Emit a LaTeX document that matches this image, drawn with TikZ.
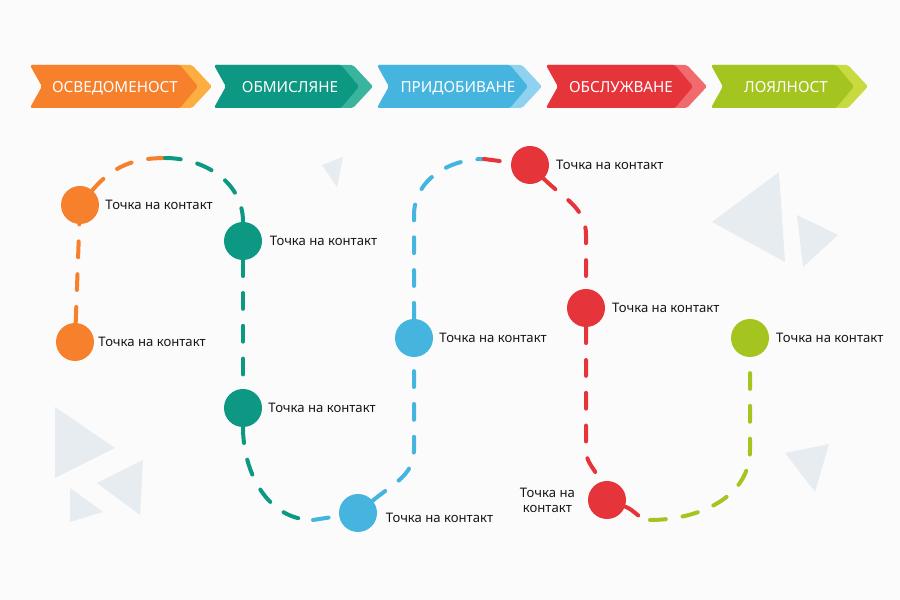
\documentclass[tikz,border=0pt]{standalone}
\usepackage{fontspec}
\setmainfont{Noto Sans}
\usetikzlibrary{positioning}
\definecolor{jrorange}{HTML}{F6802B}
\definecolor{jrorangelight}{HTML}{FCAE40}
\definecolor{jrteal}{HTML}{0C9882}
\definecolor{jrteallight}{HTML}{3BB49E}
\definecolor{jrblue}{HTML}{45B5E0}
\definecolor{jrbluelight}{HTML}{8FD2F0}
\definecolor{jrred}{HTML}{E6343B}
\definecolor{jrredlight}{HTML}{F16A6E}
\definecolor{jrgreen}{HTML}{A4C41F}
\definecolor{jrgreenlight}{HTML}{C7DA40}
\definecolor{jrgrey}{HTML}{E7ECF1}
\definecolor{jrtext}{HTML}{161616}
\definecolor{jrbg}{HTML}{FBFBFB}
\tikzset{
  jrpoint/.style={circle, inner sep=0pt, minimum size=11.4mm},
  jrlabel/.style={font=\fontsize{11.2}{12.8}\selectfont, text=jrtext, inner sep=0pt},
  jrpath/.style={line width=1.2mm, line cap=round, dash pattern=on 13.5pt off 14.5pt},
  jrstage/.style={font=\fontsize{13}{16}\selectfont\bfseries, text=white, inner sep=0pt, anchor=base},
  jrdeco/.style={fill=jrgrey, draw=none},
}
\begin{document}
\begin{tikzpicture}[x=0.3mm, y=0.3mm, font=\fontsize{11.2}{12.8}\selectfont]
        \fill[jrbg] (0,0) rectangle (900,600);
        \useasboundingbox (0,0) rectangle (900,600);
        % ---------------- triangulos de fundo ----------------
        \fill[jrdeco] (55,193) -- (115,152) -- (55,122) -- cycle;
        \fill[jrdeco] (97,117) -- (143,140) -- (140,85) -- cycle;
        \fill[jrdeco] (70,112) -- (103,88) -- (70,78) -- cycle;
        \fill[jrdeco] (322,435) -- (343,443) -- (337,413) -- cycle;
        \fill[jrdeco] (712,378) -- (779,428) -- (785,338) -- cycle;
        \fill[jrdeco] (797,385) -- (838,365) -- (803,333) -- cycle;
        \fill[jrdeco] (785,147) -- (829,156) -- (815,108) -- cycle;
        % ---------------- etapas ----------------
        \foreach \l/\p/\tx/\dk/\lt/\nm [count=\i] in {30/212/115/jrorange/jrorangelight/ОСВЕДОМЕНОСТ,
            214/373/290/jrteal/jrteallight/ОБМИСЛЯНЕ, 377/542/458/jrblue/jrbluelight/ПРИДОБИВАНЕ,
            546/707/621/jrred/jrredlight/ОБСЛУЖВАНЕ, 711/868/786/jrgreen/jrgreenlight/ЛОЯЛНОСТ} {
          \fill[\lt, rounded corners=1.5pt] (\l,535) -- (\p-20,535) -- (\p,513.5) -- (\p-20,492) -- (\l,492) -- (\l+12,513.5) -- cycle;
          \fill[\dk, rounded corners=1.5pt] (\l,535) -- (\p-32,535) -- (\p-14,513.5) -- (\p-32,492) -- (\l,492) -- (\l+12,513.5) -- cycle;
          \node[jrstage] (stage\i) at (\tx,507.5) {\nm};
        }
        % ---------------- pontos de contato ----------------
        \node[jrpoint, fill=jrorange] (o1) at (80,395) {};
        \node[jrpoint, fill=jrorange] (o2) at (75,258) {};
        \node[jrpoint, fill=jrteal] (t1) at (243,359) {};
        \node[jrpoint, fill=jrteal] (t2) at (243,192) {};
        \node[jrpoint, fill=jrblue] (b1) at (358,87) {};
        \node[jrpoint, fill=jrblue] (b2) at (414,262) {};
        \node[jrpoint, fill=jrred] (r1) at (530,435) {};
        \node[jrpoint, fill=jrred] (r2) at (586,292) {};
        \node[jrpoint, fill=jrred] (r3) at (607,100) {};
        \node[jrpoint, fill=jrgreen] (g1) at (750,262) {};
        \node[jrlabel, right=1.8mm of o1] (lo1) {Точка на контакт};
        \node[jrlabel, right=1.2mm of o2] (lo2) {Точка на контакт};
        \node[jrlabel, right=2.2mm of t1] (lt1) {Точка на контакт};
        \node[jrlabel, right=1.8mm of t2] (lt2) {Точка на контакт};
        \node[jrlabel, right=2.5mm of b1, yshift=-1.6mm] (lb1) {Точка на контакт};
        \node[jrlabel, right=1.8mm of b2] (lb2) {Точка на контакт};
        \node[jrlabel, right=2mm of r1] (lr1) {Точка на контакт};
        \node[jrlabel, right=2mm of r2] (lr2) {Точка на контакт};
        \node[jrlabel, left=3.8mm of r3, align=center] (lr3) {Точка на\\контакт};
        \node[jrlabel, right=2mm of g1] (lg1) {Точка на контакт};
        % ---------------- caminho tracejado ----------------
        \coordinate (top1) at (165,442);
        \coordinate (bot1) at (313,80);
        \coordinate (bv1) at (414,150);
        \coordinate (bv2) at (414,385);
        \coordinate (top2) at (484,441);
        \coordinate (rv1) at (586,365);
        \coordinate (rv2) at (586,150);
        \coordinate (bot2) at (650,80);
        \coordinate (gv) at (750,150);
        \draw[jrpath, jrorange] (o2) -- (o1);
        \draw[jrpath, jrorange] (o1) to[out=50,in=180] (top1);
        \draw[jrpath, jrteal] (top1) to[out=0,in=90] (t1);
        \draw[jrpath, jrteal] (t1) -- (t2);
        \draw[jrpath, jrteal] (t2) to[out=-90,in=180] (bot1);
        \draw[jrpath, jrblue] (bot1) -- (b1);
        \draw[jrpath, jrblue] (b1) to[out=40,in=-90] (bv1) -- (b2);
        \draw[jrpath, jrblue] (b2) -- (bv2) to[out=90,in=180] (top2);
        \draw[jrpath, jrred] (top2) -- (r1);
        \draw[jrpath, jrred] (r1) to[out=-45,in=90] (rv1) -- (r2);
        \draw[jrpath, jrred] (r2) -- (rv2) to[out=-90,in=110] (r3);
        \draw[jrpath, jrred] (r3) to[out=-20,in=180] (bot2);
        \draw[jrpath, jrgreen] (bot2) to[out=0,in=-90] (gv) -- (g1);
    \end{tikzpicture}
\end{document}
